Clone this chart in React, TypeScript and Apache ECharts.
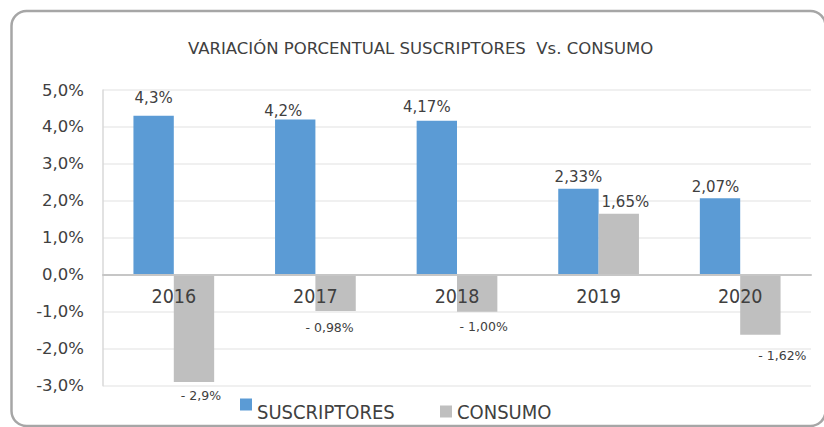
import React, { useEffect, useRef } from "react";
import * as echarts from "echarts";

const categories = ["2016", "2017", "2018", "2019", "2020"];
const suscriptores = [4.3, 4.2, 4.17, 2.33, 2.07];
const consumo = [-2.9, -0.98, -1.0, 1.65, -1.62];
const suscriptoresLabels = ["4,3%", "4,2%", "4,17%", "2,33%", "2,07%"];
const consumoLabels = ["- 2,9%", "- 0,98%", "- 1,00%", "1,65%", "- 1,62%"];
const seriesNames = ["SUSCRIPTORES", "CONSUMO"];
const yMin = -3;
const yMax = 5;
const yStep = 1;
const titleText = "VARIACIÓN PORCENTUAL SUSCRIPTORES  Vs. CONSUMO";

// label style tweaks (positions only, not data)
const blueOffsets = [[0, -6], [-12, 3], [-10, -2], [0, 0], [-4.5, 0]];
const grayOffsets = [[7, -2], [-6, 0.5], [6.5, -0.5], [6.6, 0], [22, 5]];

const BLUE = "#5b9bd5";
const GRAY = "#bfbfbf";
const TEXT = "#404040";
const COND = "'DejaVu Sans Condensed', 'DejaVu Sans', sans-serif";
const REG = "'DejaVu Sans', sans-serif";

const W = 824;
const H = 427;
const GRID_TOP = 90;
const GRID_BOTTOM = 41.3;
// place category labels just under the zero line
const plotH = H - GRID_TOP - GRID_BOTTOM;
const zeroFromBottom = ((0 - yMin) / (yMax - yMin)) * plotH;
const catLabelMargin = 12 - zeroFromBottom;

// square icon in the top part of a taller box (raises the square above the text centre)
const raisedSquare = "path://M0,0L12,0L12,12L0,12ZM0,26L0,26";

export default function App() {
  const ref = useRef<HTMLDivElement>(null);
  useEffect(() => {
    if (!ref.current) return;
    const chart = echarts.init(ref.current, null, { renderer: "svg" });
    const option = {
      animation: false,
      backgroundColor: "#ffffff",
      title: {
        text: titleText,
        left: 188,
        top: 40,
        padding: 0,
        textStyle: { fontFamily: REG, fontSize: 16.5, fontWeight: "normal", color: TEXT },
      },
      legend: [
        {
          data: [{ name: seriesNames[0], icon: raisedSquare }],
          left: 240,
          top: 398.5,
          padding: 0,
          itemWidth: 12,
          itemHeight: 26,
          itemGap: 5,
          textStyle: { fontFamily: COND, fontSize: 20, color: TEXT },
        },
        {
          data: [seriesNames[1]],
          left: 440,
          top: 401.5,
          padding: 0,
          itemWidth: 12,
          itemHeight: 12,
          icon: "rect",
          textStyle: { fontFamily: COND, fontSize: 20, color: TEXT },
        },
      ],
      grid: { left: 103, right: 13, top: GRID_TOP, bottom: GRID_BOTTOM, containLabel: false },
      xAxis: {
        type: "category",
        data: categories,
        axisTick: { show: false },
        axisLine: { onZero: true, lineStyle: { color: "#c6c6c6", width: 2 } },
        axisLabel: { fontFamily: COND, fontSize: 19.5, color: TEXT, margin: catLabelMargin },
        z: 10,
      },
      yAxis: {
        type: "value",
        min: yMin,
        max: yMax,
        interval: yStep,
        axisLine: { show: true, lineStyle: { color: "#d9d9d9", width: 1.5 } },
        axisTick: { show: false },
        splitLine: { lineStyle: { color: "#ebebeb", width: 1.5 } },
        axisLabel: {
          fontFamily: REG,
          fontSize: 16.5,
          color: TEXT,
          margin: 19,
          formatter: (v: number) => v.toFixed(1).replace(".", ",") + "%",
        },
      },
      series: [
        {
          name: seriesNames[0],
          type: "bar",
          barGap: "0%",
          barCategoryGap: "43%",
          itemStyle: { color: BLUE },
          data: suscriptores.map((v, i) => ({
            value: v,
            label: {
              show: true,
              position: v < 0 ? "bottom" : "top",
              distance: 4,
              formatter: suscriptoresLabels[i],
              offset: blueOffsets[i],
              fontFamily: REG,
              fontSize: 15,
              color: TEXT,
            },
          })),
        },
        {
          name: seriesNames[1],
          type: "bar",
          barGap: "0%",
          barCategoryGap: "43%",
          itemStyle: { color: GRAY },
          data: consumo.map((v, i) => ({
            value: v,
            label: {
              show: true,
              position: v < 0 ? "bottom" : "top",
              distance: v < 0 ? 9 : 4,
              formatter: consumoLabels[i],
              offset: grayOffsets[i],
              fontFamily: REG,
              fontSize: v < 0 ? 12.5 : 15,
              color: TEXT,
            },
          })),
        },
      ],
      graphic: [
        {
          type: "rect",
          silent: true,
          z: 100,
          shape: { x: 11.5, y: 11, width: 814, height: 415, r: 15 },
          style: { fill: "none", stroke: "#a6a6a6", lineWidth: 2.5 },
        },
      ],
    };
    chart.setOption(option as any);
    return () => chart.dispose();
  }, []);
  return (
    <div
      ref={ref}
      style={{ position: "fixed", left: 0, top: 0, width: W, height: H, background: "#fff" }}
    />
  );
}
